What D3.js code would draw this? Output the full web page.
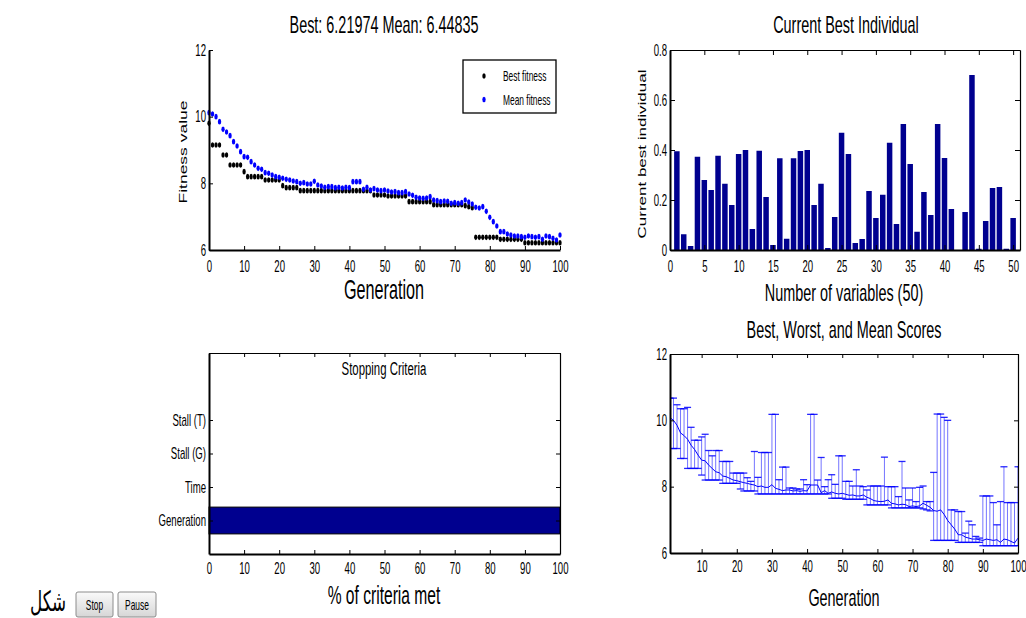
<!DOCTYPE html>
<html>
<head>
<meta charset="utf-8">
<script src="https://cdn.jsdelivr.net/npm/d3@7"></script>
<style>
  html, body { margin: 0; padding: 0; background: #fff; }
  svg { display: block; }
</style>
</head>
<body>
<svg id="fig" width="1026" height="618"></svg>
<script>
// ---------------- data ----------------
const generations = d3.range(0, 101);

const bestFitness = [
  9.8,
  9.15, 9.15, 9.15,
  8.85, 8.85,
  8.55, 8.55, 8.55, 8.55,
  8.35,
  8.2, 8.2, 8.2, 8.2, 8.2,
  8.1, 8.1, 8.1, 8.1, 8.1,
  7.93,
  7.87, 7.87, 7.87, 7.87,
  7.78, 7.78, 7.78, 7.78, 7.78, 7.78, 7.78, 7.78, 7.78, 7.78, 7.78,
  7.78, 7.78, 7.78, 7.78, 7.78, 7.78, 7.78, 7.78, 7.78, 7.78,
  7.65, 7.65, 7.65, 7.65,
  7.62, 7.62, 7.62, 7.62, 7.62, 7.62,
  7.45, 7.45, 7.45, 7.45, 7.45, 7.45, 7.45,
  7.36, 7.36, 7.36, 7.36, 7.36, 7.36, 7.36, 7.36, 7.36,
  7.33, 7.3, 7.27,
  6.38, 6.38, 6.38, 6.38, 6.38, 6.38, 6.38,
  6.32, 6.32, 6.32, 6.32, 6.32, 6.32, 6.32,
  6.21974, 6.21974, 6.21974, 6.21974, 6.21974, 6.21974,
  6.21974, 6.21974, 6.21974, 6.21974, 6.21974
];

const meanFitness = [
  10.12, 10.08, 10.0, 9.85, 9.62, 9.54, 9.43, 9.25, 9.12, 8.95,
  8.8, 8.78, 8.65, 8.55, 8.45, 8.42, 8.32, 8.3, 8.25, 8.2,
  8.18, 8.15, 8.12, 8.1, 8.07, 8.05, 8.0, 8.02, 7.98, 7.98,
  8.06, 7.95, 7.92, 7.88, 7.9, 7.9, 7.87, 7.88, 7.86, 7.88,
  7.87, 8.05, 8.05, 8.05, 7.82, 7.88, 7.8, 7.84, 7.8, 7.78,
  7.8, 7.77, 7.74, 7.75, 7.72, 7.72, 7.75, 7.68, 7.64, 7.58,
  7.56, 7.55, 7.56, 7.6, 7.5, 7.48, 7.45, 7.47, 7.46, 7.4,
  7.42, 7.4, 7.42, 7.5, 7.44, 7.38, 7.28, 7.26, 7.3, 7.16,
  6.98, 6.85, 6.72, 6.55, 6.55, 6.48, 6.45, 6.42, 6.42, 6.4,
  6.38, 6.42, 6.4, 6.38, 6.4, 6.32, 6.42, 6.4, 6.35, 6.3,
  6.44835
];

const worstScore = [
  10.6, 10.67, 10.67, 10.47, 10.35, 10.35, 10.39, 9.79, 9.4, 9.4,
  9.5, 9.58, 9.09, 8.93, 9.09, 9.09, 8.76, 8.76, 8.76, 8.41,
  8.41, 8.41, 8.41, 8.27, 8.16, 9.06, 8.28, 9.03, 9.03, 9.03,
  10.18, 10.18, 8.21, 8.59, 8.59, 7.96, 7.96, 7.93, 7.93, 8.21,
  8.06, 10.18, 10.18, 8.2, 8.88, 8.0, 8.21, 8.36, 8.07, 8.93,
  8.93, 8.16, 8.16, 8.02, 8.51, 8.02, 8.0, 7.9, 8.02, 8.02,
  8.02, 8.02, 8.89, 8.0, 8.0, 8.0, 7.7, 8.76, 7.96, 7.6,
  7.96, 7.55, 7.98, 8.02, 7.55, 7.55, 8.43, 10.19, 10.19, 10.09,
  10.0, 7.3, 7.3, 7.25, 7.25, 6.6, 6.96, 6.85, 6.5, 6.45,
  7.72, 7.72, 7.72, 7.52, 6.85, 7.55, 8.6, 7.52, 7.52, 7.52,
  8.6
];

const variableIndex = d3.range(1, 51);
const bestIndividual = [
  0.395, 0.063, 0.016, 0.373, 0.28, 0.24, 0.377, 0.265, 0.18, 0.384,
  0.40, 0.084, 0.397, 0.212, 0.02, 0.367, 0.045, 0.367, 0.396, 0.40,
  0.18, 0.265, 0.008, 0.132, 0.469, 0.384, 0.028, 0.044, 0.236, 0.128,
  0.221, 0.429, 0.104, 0.504, 0.344, 0.073, 0.232, 0.14, 0.504, 0.368,
  0.164, 0.0, 0.152, 0.70, 0.005, 0.116, 0.248, 0.252, 0.005, 0.128
];

const criteriaNames = ["Generation", "Time", "Stall (G)", "Stall (T)"];
const criteriaMet = [100, 0, 0, 0];

const genTicks = d3.range(0, 101, 10);
const genTicksNoZero = d3.range(10, 101, 10);
const fitnessTicks = [6, 8, 10, 12];
const varTicks = d3.range(0, 51, 5);
const individualTicks = [0, 0.2, 0.4, 0.6, 0.8];

const finalBest = bestFitness[bestFitness.length - 1];
const finalMean = meanFitness[meanFitness.length - 1];

// ---------------- style ----------------
const SX = 0.6;  // narrow figure text
const FONT = "'Liberation Sans', Arial, Helvetica, sans-serif";
const NAVY = "#00008f";
const BLUE = "#0000ff";
const TICK_FONT = 16;

const svg = d3.select("#fig");
const defs = svg.append("defs");

function txt(parent, x, y, s, size, anchor = "middle", rotate = false, family = FONT) {
  return parent.append("text")
    .attr("transform", `translate(${x},${y}) scale(${SX},1)${rotate ? " rotate(-90)" : ""}`)
    .attr("text-anchor", anchor)
    .attr("font-family", family)
    .attr("font-size", size)
    .attr("fill", "#000")
    .text(s);
}

function styleAxis(g, domainWidth, fontSize) {
  g.attr("font-family", FONT).attr("font-size", fontSize);
  g.select(".domain").attr("stroke", "#000").attr("stroke-width", domainWidth);
  g.selectAll(".tick line").attr("stroke", "#000").attr("stroke-width", 1);
  g.selectAll(".tick text").attr("fill", "#000").each(function () {
    const t = d3.select(this);
    const x0 = +(t.attr("x") || 0);
    t.attr("x", x0 / SX).attr("transform", `scale(${SX},1)`);
  });
}

// MATLAB-like axes: inward ticks, optional full box
function frame(x, y, o) {
  const g = svg.append("g");
  const [xl, xr] = x.range();
  const [yb, yt] = y.range();
  const tl = o.tick || 4;
  g.append("g").attr("transform", `translate(0,${yb})`)
    .call(d3.axisBottom(x).tickValues(o.xTicks).tickFormat(o.xFmt).tickSize(-tl).tickSizeOuter(0).tickPadding(o.xPad))
    .call(styleAxis, 2, TICK_FONT);
  g.append("g").attr("transform", `translate(${xl},0)`)
    .call(d3.axisLeft(y).tickValues(o.yTicks).tickFormat(o.yFmt).tickSize(-tl).tickSizeOuter(0).tickPadding(3))
    .call(styleAxis, 2, o.yFont || TICK_FONT);
  if (o.box) {
    g.append("g").attr("transform", `translate(0,${yt})`)
      .call(d3.axisTop(x).tickValues(o.xTicks).tickFormat("").tickSize(-tl).tickSizeOuter(0))
      .call(styleAxis, 1.2, TICK_FONT);
    g.append("g").attr("transform", `translate(${xr},0)`)
      .call(d3.axisRight(y).tickValues(o.yTicks).tickFormat("").tickSize(-tl).tickSizeOuter(0))
      .call(styleAxis, 1.2, TICK_FONT);
  }
  return g;
}

// ---------------- 1. fitness per generation ----------------
{
  const x = d3.scaleLinear().domain([0, 100]).range([209, 560]);
  const y = d3.scaleLinear().domain([6, 12]).range([250, 50]);
  const g = svg.append("g");
  g.selectAll("ellipse.best").data(generations).join("ellipse")
    .attr("class", "best")
    .attr("cx", d => x(d)).attr("cy", d => y(bestFitness[d]))
    .attr("rx", 2.8 * SX).attr("ry", 2.8).attr("fill", "#000");
  g.selectAll("ellipse.mean").data(generations).join("ellipse")
    .attr("class", "mean")
    .attr("cx", d => x(d)).attr("cy", d => y(meanFitness[d]))
    .attr("rx", 2.8 * SX).attr("ry", 2.8).attr("fill", BLUE);
  frame(x, y, { xTicks: genTicks, yTicks: fitnessTicks, xFmt: d3.format("d"), yFmt: d3.format("d"), xPad: 11, box: false });

  txt(svg, 384, 33, `Best: ${finalBest} Mean: ${finalMean}`, 24);
  txt(svg, 384, 299, "Generation", 27);
  txt(svg, 187, 152, "Fitness value", 17.5, "middle", true);

  // legend
  const lg = svg.append("g");
  lg.append("rect").attr("x", 463).attr("y", 60).attr("width", 93).attr("height", 53)
    .attr("fill", "#fff").attr("stroke", "#000").attr("stroke-width", 1.3);
  const entries = [["Best fitness", "#000"], ["Mean fitness", BLUE]];
  entries.forEach(([name, col], i) => {
    const cy = 76 + i * 23.5;
    lg.append("ellipse").attr("cx", 484).attr("cy", cy).attr("rx", 2.8 * SX).attr("ry", 2.8).attr("fill", col);
    txt(lg, 503, cy + 5, name, 14, "start");
  });
}

// ---------------- 2. current best individual ----------------
{
  const x = d3.scaleLinear().domain([0, 51]).range([670, 1020]);
  const y = d3.scaleLinear().domain([0, 0.8]).range([250, 50]);
  svg.append("g").selectAll("rect").data(variableIndex).join("rect")
    .attr("x", d => x(d - 0.4))
    .attr("width", d => x(d + 0.4) - x(d - 0.4))
    .attr("y", (d, i) => y(bestIndividual[i]))
    .attr("height", (d, i) => y(0) - y(bestIndividual[i]))
    .attr("fill", NAVY);
  frame(x, y, { xTicks: varTicks, yTicks: individualTicks, xFmt: d3.format("d"), yFmt: d => d === 0 ? "0" : d3.format(".1f")(d), xPad: 11, box: true, tick: 5 });
  txt(svg, 846, 33, "Current Best Individual", 24);
  txt(svg, 844, 301, "Number of variables (50)", 24);
  txt(svg, 646, 154, "Current best individual", 17, "middle", true);
}

// ---------------- 3. stopping criteria ----------------
{
  const x = d3.scaleLinear().domain([0, 100]).range([209, 560]);
  const y = d3.scaleLinear().domain([0, 6]).range([554, 353]);
  const pos = criteriaNames.map((d, i) => i + 1);
  svg.append("g").selectAll("rect").data(criteriaNames).join("rect")
    .attr("x", x(0))
    .attr("width", (d, i) => x(criteriaMet[i]) - x(0))
    .attr("y", (d, i) => y(i + 1 + 0.4))
    .attr("height", y(0) - y(0.8))
    .attr("fill", NAVY)
    .attr("stroke", (d, i) => criteriaMet[i] > 0 ? "#000" : "none")
    .attr("stroke-width", 1);
  frame(x, y, { xTicks: genTicks, yTicks: pos, xFmt: d3.format("d"), yFmt: d => criteriaNames[d - 1], yFont: 16, xPad: 9, box: true });
  txt(svg, 384, 375, "Stopping Criteria", 19);
  txt(svg, 384, 604, "% of criteria met", 26);
}

// ---------------- 4. best, worst and mean scores ----------------
{
  const x = d3.scaleLinear().domain([1, 100]).range([670, 1018]);
  const y = d3.scaleLinear().domain([6, 12]).range([553, 354]);
  defs.append("clipPath").attr("id", "scoreClip")
    .append("rect").attr("x", 670).attr("y", 354).attr("width", 348).attr("height", 199);
  const g = svg.append("g").attr("clip-path", "url(#scoreClip)");
  const half = x(1) - x(0);
  g.selectAll("line.stem").data(generations).join("line")
    .attr("class", "stem")
    .attr("x1", d => x(d)).attr("x2", d => x(d))
    .attr("y1", d => y(bestFitness[d])).attr("y2", d => y(worstScore[d]))
    .attr("stroke", BLUE).attr("stroke-opacity", 0.55).attr("stroke-width", 1);
  g.selectAll("line.capTop").data(generations).join("line")
    .attr("class", "capTop")
    .attr("x1", d => x(d) - half).attr("x2", d => x(d) + half)
    .attr("y1", d => y(worstScore[d])).attr("y2", d => y(worstScore[d]))
    .attr("stroke", BLUE).attr("stroke-opacity", 0.85).attr("stroke-width", 1.3);
  g.selectAll("line.capBot").data(generations).join("line")
    .attr("class", "capBot")
    .attr("x1", d => x(d) - half).attr("x2", d => x(d) + half)
    .attr("y1", d => y(bestFitness[d])).attr("y2", d => y(bestFitness[d]))
    .attr("stroke", BLUE).attr("stroke-opacity", 0.85).attr("stroke-width", 1.3);
  g.append("path").datum(generations)
    .attr("d", d3.line().x(d => x(d)).y(d => y(meanFitness[d])))
    .attr("fill", "none").attr("stroke", BLUE).attr("stroke-width", 1);
  frame(x, y, { xTicks: genTicksNoZero, yTicks: fitnessTicks, xFmt: d3.format("d"), yFmt: d3.format("d"), xPad: 8, box: true });
  txt(svg, 844, 338, "Best, Worst, and Mean Scores", 24);
  txt(svg, 844, 606, "Generation", 24);
}

// ---------------- Stop / Pause buttons and caption ----------------
{
  const grad = defs.append("linearGradient").attr("id", "btnGrad").attr("x1", 0).attr("y1", 0).attr("x2", 0).attr("y2", 1);
  grad.append("stop").attr("offset", "0%").attr("stop-color", "#fafafa");
  grad.append("stop").attr("offset", "100%").attr("stop-color", "#d6d6d6");
  const buttons = [["Stop", 76, 37], ["Pause", 118, 38]];
  buttons.forEach(([label, bx, bw]) => {
    svg.append("rect").attr("x", bx).attr("y", 592).attr("width", bw).attr("height", 25)
      .attr("rx", 2).attr("fill", "url(#btnGrad)").attr("stroke", "#8c8c8c").attr("stroke-width", 1);
    txt(svg, bx + bw / 2, 610, label, 14);
  });
  txt(svg, 66, 611, "شکل", 28, "end", false, "'DejaVu Sans', 'Noto Sans', sans-serif");
}
</script>
</body>
</html>
